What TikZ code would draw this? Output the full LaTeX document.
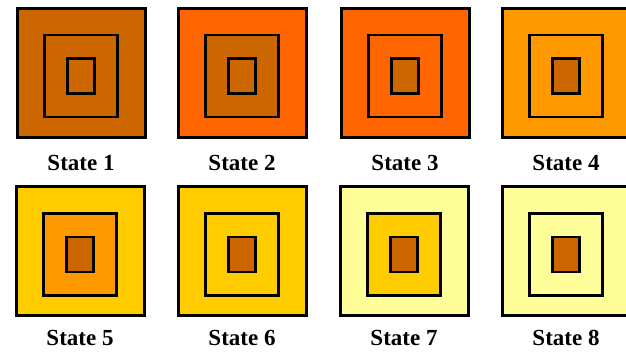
\documentclass[tikz,border=0pt]{standalone}
\usepackage{fontspec}
\setmainfont{Liberation Serif}
\definecolor{cBrown}{HTML}{CC6600}
\definecolor{cRed}{HTML}{FF6600}
\definecolor{cOrange}{HTML}{FF9900}
\definecolor{cGold}{HTML}{FFCC00}
\definecolor{cPale}{HTML}{FFFF99}
\tikzset{
  outerbox/.style={draw=black, line width=3pt, minimum width=128pt, minimum height=129pt, inner sep=0pt, outer sep=0pt},
  midbox/.style={draw=black, line width=2.8pt, minimum width=73pt, minimum height=82pt, inner sep=0pt, outer sep=0pt},
  innerbox/.style={draw=black, line width=2.8pt, fill=cBrown, minimum width=27pt, minimum height=35pt, inner sep=0pt, outer sep=0pt},
  statelabel/.style={font=\fontsize{23}{23}\selectfont\bfseries, anchor=base, inner sep=0pt}
}
\begin{document}
\begin{tikzpicture}[x=1pt,y=-1pt]
\useasboundingbox (0,0) rectangle (626,354);
% col, row y(outer), y(mid), baseline, outer fill, mid fill, name
\foreach \n/\cx/\oy/\my/\by/\ofill/\mfill in {
  1/81/72.5/76/170/cBrown/cBrown,
  2/242/72.5/76/170/cRed/cBrown,
  3/405/72.5/76/170/cRed/cRed,
  4/566/72.5/76/170/cOrange/cOrange,
  5/80/251/254.5/345/cGold/cOrange,
  6/242/251/254.5/345/cGold/cGold,
  7/404/251/254.5/345/cPale/cGold,
  8/566/251/254.5/345/cPale/cPale}{
  \node[outerbox, fill=\ofill] (o\n) at (\cx,\oy) {};
  \node[midbox, fill=\mfill] (m\n) at (\cx,\my) {};
  \node[innerbox] (i\n) at (\cx,\my) {};
  \node[statelabel] (l\n) at (\cx,\by) {State \n};
}
\end{tikzpicture}
\end{document}
